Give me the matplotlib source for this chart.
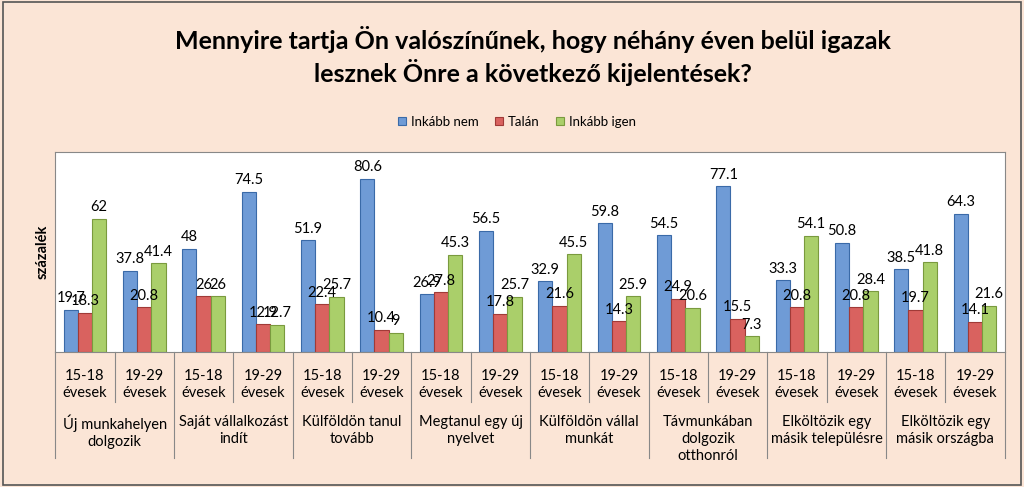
import numpy as np
import matplotlib.pyplot as plt
from matplotlib.lines import Line2D

plt.rcParams["font.family"] = "Lato"

categories = ["Új munkahelyen\ndolgozik", "Saját vállalkozást\nindít", "Külföldön tanul\ntovább",
              "Megtanul egy új\nnyelvet", "Külföldön vállal\nmunkát", "Távmunkában\ndolgozik\notthonról",
              "Elköltözik egy\nmásik településre", "Elköltözik egy\nmásik országba"]
age_groups = ["15-18\névesek", "19-29\névesek"]
series_names = ["Inkább nem", "Talán", "Inkább igen"]

inkabb_nem = [19.7, 37.8, 48, 74.5, 51.9, 80.6, 26.9, 56.5, 32.9, 59.8, 54.5, 77.1, 33.3, 50.8, 38.5, 64.3]
talan = [18.3, 20.8, 26, 12.9, 22.4, 10.4, 27.8, 17.8, 21.6, 14.3, 24.9, 15.5, 20.8, 20.8, 19.7, 14.1]
inkabb_igen = [62, 41.4, 26, 12.7, 25.7, 9, 45.3, 25.7, 45.5, 25.9, 20.6, 7.3, 54.1, 28.4, 41.8, 21.6]

fills = ["#6F9BD6", "#D9625F", "#AACF6A"]
edges = ["#3A6AA8", "#A03A37", "#7A9A3E"]

fig = plt.figure(figsize=(10.24, 4.87), dpi=100, facecolor="#FBE5D6")
ax = fig.add_axes([0.054, 0.277, 0.927, 0.411])
ax.set_facecolor("white")

n = len(inkabb_nem)
x = np.arange(n)
w = 0.24
for k, vals in enumerate([inkabb_nem, talan, inkabb_igen]):
    ax.bar(x + (k - 1) * w, vals, w, color=fills[k], edgecolor=edges[k], linewidth=0.8,
           label=series_names[k])
    for xi, v in zip(x + (k - 1) * w, vals):
        ax.text(xi, v + 2, f"{v:g}", ha="center", va="bottom", fontsize=10.5)

ax.set_xlim(-0.5, n - 0.5)
ax.set_ylim(0, 93)
ax.set_yticks([])
ax.set_xticks([])
for s in ax.spines.values():
    s.set_color("#888888")
    s.set_linewidth(0.8)

# x labels, two levels
for i in range(n):
    ax.text(i, -8, age_groups[i % 2], ha="center", va="top", fontsize=10.5, clip_on=False)
for c, cat in enumerate(categories):
    ax.text(2 * c + 0.5, -29, cat, ha="center", va="top", fontsize=10.5, clip_on=False,
            linespacing=1.3)
# separators
for i in range(n + 1):
    xb = i - 0.5
    y_end = -49 if i % 2 == 0 else -23
    ax.add_line(Line2D([xb, xb], [0, y_end], color="#888888", lw=0.8, clip_on=False))

ax.set_ylabel("százalék", fontsize=10.5, fontweight="bold")

fig.text(0.52, 0.885, "Mennyire tartja Ön valószínűnek, hogy néhány éven belül igazak\n"
         "lesznek Önre a következő kijelentések?", ha="center", va="center",
         fontsize=18, fontweight="bold", linespacing=1.25)
fig.legend(loc="center", bbox_to_anchor=(0.505, 0.75), ncol=3, frameon=False, fontsize=9.5,
           handlelength=0.6, handleheight=0.6, columnspacing=1.2, handletextpad=0.4)

fig.add_artist(plt.Rectangle((0.003, 0.005), 0.994, 0.99, transform=fig.transFigure,
                             fill=False, edgecolor="#555555", lw=1.2))
fig.savefig("out.png", dpi=100, facecolor=fig.get_facecolor())
